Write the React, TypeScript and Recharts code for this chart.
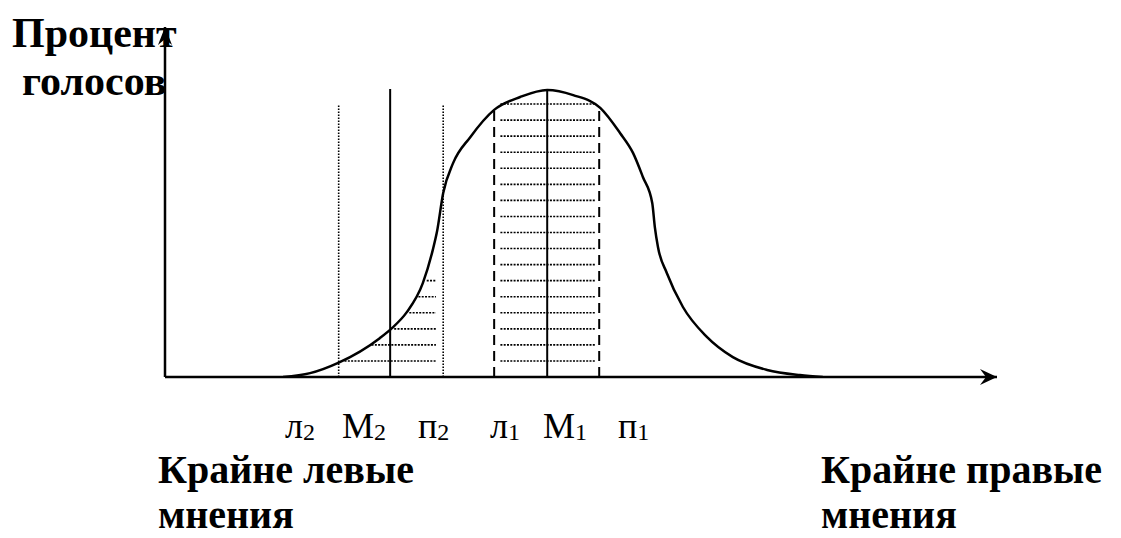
import {
  ComposedChart,
  Line,
  ReferenceDot,
  ReferenceLine,
  XAxis,
  YAxis,
} from "recharts";

// Opinion scale (x) and share of votes (y) along the distribution curve
const curveX = [
  22.7, 27.9, 33.3, 41.3, 43.7, 46.5, 49.6, 51.5, 52.3, 53.5, 55.4, 58.7, 63.3, 68.3, 73.5,
  78.5, 83.7, 87.5, 90, 91.9, 93.7, 94.2, 94.8, 96.5, 99.6, 104.2, 109.2, 115.8, 122.1, 126.5,
];
const curveY = [
  0, 1.2, 4.4, 12.1, 15.3, 20.2, 29.3, 39.6, 45.2, 57.3, 66.6, 74.7, 83.2, 87.2, 89.4,
  87.8, 83.8, 76.0, 69.8, 62.3, 54.2, 46.7, 40.5, 32.4, 21.8, 12.5, 6.2, 2.2, 0.6, 0,
];

// Party positions: left edge, median, right edge for both parties
const markerNames = ["л2", "М2", "п2", "л1", "М1", "п1"];
const markerX = [33.4, 43.3, 53.5, 63.3, 73.5, 83.5];
const markerTop = [85, 89.7, 85, 84.7, 89.4, 84.7];
const markerKind = ["dotted", "solid", "dotted", "dashed", "solid", "dashed"];

// Shaded bands (horizontal dotted hatching)
const leftHatchLevels = [5, 10, 15, 20, 25, 30];
const leftHatchEnd = 52.1;
const rightHatchLevels = [5, 10, 15, 20, 25, 30, 35, 40, 45, 50, 55, 60, 65, 70, 75, 80, 85];
const rightHatchStart = 64.5;
const rightHatchEnd = 82.9;

const X_MAX = 160;
const Y_MAX = 109;

const data = curveX.map((x, i) => ({ x, y: curveY[i] }));

const peakIdx = curveY.indexOf(Math.max(...curveY));

// x where the rising side of the curve reaches a given level
function risingX(level: number) {
  for (let i = 1; i <= peakIdx; i++) {
    if (curveY[i] >= level) {
      const t = (level - curveY[i - 1]) / (curveY[i] - curveY[i - 1]);
      return curveX[i - 1] + t * (curveX[i] - curveX[i - 1]);
    }
  }
  return curveX[peakIdx];
}

const lineStyle: Record<string, { strokeDasharray?: string; strokeWidth: number }> = {
  solid: { strokeWidth: 2 },
  dotted: { strokeDasharray: "1.5 1.5", strokeWidth: 1.6 },
  dashed: { strokeDasharray: "10 6", strokeWidth: 2 },
};

const labelStartX = [285, 342, 418, 490, 543, 618];

const serif = '"Liberation Serif", "Times New Roman", serif';

function ArrowRight(props: any) {
  const { cx, cy } = props;
  return <path d={`M${cx},${cy} L${cx - 17},${cy - 8} L${cx - 11},${cy} L${cx - 17},${cy + 8} Z`} fill="#000" />;
}

function ArrowUp(props: any) {
  const { cx, cy } = props;
  return <path d={`M${cx},${cy} L${cx - 7},${cy + 18} L${cx},${cy + 12} L${cx + 7},${cy + 18} Z`} fill="#000" />;
}

export default function App() {
  return (
    <div style={{ position: "absolute", left: 0, top: 0, width: 1121, height: 538, background: "#fff" }}>
      <svg width={1121} height={538} style={{ position: "absolute", left: 0, top: 0 }} fontFamily={serif}>
        <g fontWeight="bold" fontSize={42} fill="#000">
          <text x={12} y={47}>Процент</text>
          <text x={22} y={95}>голосов</text>
        </g>
        <g fontWeight="bold" fontSize={40} fill="#000">
          <text x={158} y={483}>Крайне левые</text>
          <text x={158} y={528}>мнения</text>
          <text x={821} y={483}>Крайне правые</text>
          <text x={821} y={528}>мнения</text>
        </g>
        <g fontSize={36} fill="#000">
          {markerNames.map((name, i) => (
            <text key={name} x={labelStartX[i]} y={438}>
              {name.slice(0, 1)}
              <tspan fontSize={24} dy={2}>
                {name.slice(1)}
              </tspan>
            </text>
          ))}
        </g>
      </svg>
      <div style={{ position: "absolute", left: 0, top: 0 }}>
        <ComposedChart
          width={1121}
          height={538}
          data={data}
          margin={{ top: 27, right: 124, bottom: 161, left: 165 }}
        >
          <XAxis type="number" dataKey="x" domain={[0, X_MAX]} allowDataOverflow hide />
          <YAxis type="number" domain={[0, Y_MAX]} allowDataOverflow hide />

          {leftHatchLevels.map((lvl) => (
            <ReferenceLine
              key={`lh-${lvl}`}
              segment={[
                { x: Math.max(risingX(lvl) + 0.6, markerX[0]), y: lvl },
                { x: leftHatchEnd, y: lvl },
              ]}
              stroke="#000"
              strokeWidth={1.6}
              strokeDasharray="2 1.3"
            />
          ))}
          {rightHatchLevels.map((lvl) => (
            <ReferenceLine
              key={`rh-${lvl}`}
              segment={[
                { x: rightHatchStart, y: lvl },
                { x: rightHatchEnd, y: lvl },
              ]}
              stroke="#000"
              strokeWidth={1.6}
              strokeDasharray="2 1.3"
            />
          ))}

          {markerX.map((x, i) => (
            <ReferenceLine
              key={markerNames[i]}
              segment={[
                { x, y: 0 },
                { x, y: markerTop[i] },
              ]}
              stroke="#000"
              {...lineStyle[markerKind[i]]}
            />
          ))}

          <Line
            type="monotone"
            dataKey="y"
            stroke="#000"
            strokeWidth={2.5}
            dot={false}
            activeDot={false}
            isAnimationActive={false}
          />

          {/* axes with arrowheads */}
          <ReferenceLine
            segment={[
              { x: 0, y: 0 },
              { x: X_MAX, y: 0 },
            ]}
            ifOverflow="visible"
            stroke="#000"
            strokeWidth={2.5}
          />
          <ReferenceLine
            segment={[
              { x: 0, y: 0 },
              { x: 0, y: Y_MAX },
            ]}
            ifOverflow="visible"
            stroke="#000"
            strokeWidth={2.5}
          />
          <ReferenceDot x={X_MAX} y={0} ifOverflow="visible" shape={ArrowRight} />
          <ReferenceDot x={0} y={Y_MAX} ifOverflow="visible" shape={ArrowUp} />
        </ComposedChart>
      </div>
    </div>
  );
}
